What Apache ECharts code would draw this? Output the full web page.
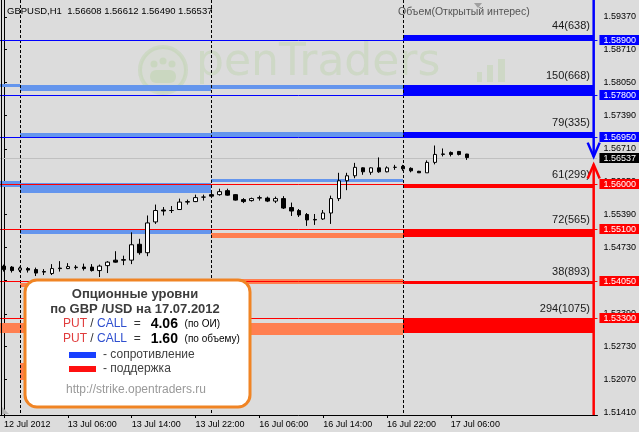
<!DOCTYPE html>
<html>
<head>
<meta charset="utf-8">
<title>GBPUSD H1 — опционные уровни</title>
<script src="https://cdn.jsdelivr.net/npm/echarts@6/dist/echarts.min.js"></script>
<style>
  html, body { margin: 0; padding: 0; background: #dcdcdc; }
  #chart { width: 639px; height: 432px; }
</style>
</head>
<body>
<div id="chart"></div>
<script>
// свечи H1, индекс 0 = 12 Jul 22:00, последний = 17 Jul 08:00
const opens = [
  1.5435, 1.5433, 1.5427, 1.5430, 1.5428, 1.5424, 1.5420, 1.5431, 1.5430, 1.5432,
  1.5433, 1.5433, 1.5426, 1.5436, 1.5447, 1.5448, 1.5447, 1.5479, 1.5462, 1.5524,
  1.5548, 1.5547, 1.5549, 1.5564, 1.5565, 1.5574, 1.5579, 1.5579, 1.5587, 1.5579,
  1.5569, 1.5567, 1.5572, 1.5572, 1.5566, 1.5571, 1.5553, 1.5547, 1.5539, 1.5529,
  1.5530, 1.5542, 1.5571, 1.5607, 1.5617, 1.5633, 1.5624, 1.5633, 1.5625, 1.5634,
  1.5636, 1.5632, 1.5626, 1.5623, 1.5644, 1.5660, 1.5664, 1.5666, 1.56608,
]
const highs = [
  1.5438, 1.5435, 1.5434, 1.5433, 1.5432, 1.5429, 1.5439, 1.5445, 1.5441, 1.5437,
  1.5440, 1.5439, 1.5438, 1.5445, 1.5465, 1.5456, 1.5503, 1.5490, 1.5537, 1.5559,
  1.5554, 1.5556, 1.5571, 1.5569, 1.5579, 1.5579, 1.5584, 1.5591, 1.5591, 1.5580,
  1.5572, 1.5573, 1.5577, 1.5575, 1.5575, 1.5576, 1.5563, 1.5550, 1.5542, 1.5540,
  1.5548, 1.5577, 1.5623, 1.5623, 1.5643, 1.5634, 1.5634, 1.5654, 1.5636, 1.5639,
  1.5639, 1.5634, 1.5627, 1.5648, 1.5678, 1.5672, 1.5666, 1.5667, 1.56612,
]
const lows = [
  1.5424, 1.5422, 1.5423, 1.5422, 1.5415, 1.5417, 1.5417, 1.5424, 1.5429, 1.5428,
  1.5426, 1.5424, 1.5413, 1.5421, 1.5442, 1.5437, 1.5439, 1.5458, 1.5455, 1.5520,
  1.5537, 1.5542, 1.5548, 1.5559, 1.5564, 1.5567, 1.5572, 1.5577, 1.5577, 1.5567,
  1.5562, 1.5565, 1.5567, 1.5564, 1.5562, 1.5550, 1.5536, 1.5534, 1.5516, 1.5518,
  1.5528, 1.5520, 1.5566, 1.5588, 1.5612, 1.5619, 1.5619, 1.5623, 1.5624, 1.5629,
  1.5627, 1.5624, 1.5623, 1.5623, 1.5640, 1.5656, 1.5656, 1.5658, 1.56490,
]
const closes = [
  1.5428, 1.5426, 1.5431, 1.5427, 1.5421, 1.5423, 1.5430, 1.5430, 1.5434, 1.5433,
  1.5430, 1.5426, 1.5435, 1.5443, 1.5443, 1.5447, 1.5478, 1.5462, 1.5522, 1.5547,
  1.5546, 1.5547, 1.5564, 1.5565, 1.5573, 1.5574, 1.5576, 1.5585, 1.5578, 1.5568,
  1.5565, 1.5571, 1.5573, 1.5566, 1.5571, 1.5552, 1.5546, 1.5538, 1.5528, 1.5528,
  1.5542, 1.5571, 1.5607, 1.5617, 1.5634, 1.5625, 1.5633, 1.5625, 1.5633, 1.5634,
  1.5631, 1.5627, 1.5623, 1.5644, 1.5660, 1.5661, 1.5660, 1.5660, 1.56537,
]

// подписи шкалы времени
const timeTickIdx = [0, 8, 16, 24, 32, 40, 48, 56]
const timeTickLabels = [
  '12 Jul 2012', '13 Jul 06:00', '13 Jul 14:00', '13 Jul 22:00',
  '16 Jul 06:00', '16 Jul 14:00', '16 Jul 22:00', '17 Jul 06:00',
]
// разделители дней (00:00)
const daySeparators = [2, 26, 50]
// границы дней для уровней: 12 Jul, 13 Jul, 16 Jul, 17 Jul
const dayBounds = [[-0.5, 2], [2, 26], [26, 50], [50, 73.9]]

// шкала цен
const priceTicks = [
  1.5937, 1.5871, 1.5805, 1.5739, 1.5671, 1.5605, 1.5539,
  1.5473, 1.5407, 1.5339, 1.5273, 1.5207, 1.5141,
]

// опционные уровни на 17.07 (R - сопротивление, S - поддержка)
const levelPrices = [1.5890, 1.5780, 1.5695, 1.5600, 1.5510, 1.5405, 1.5330]
const levelKinds = ['R', 'R', 'R', 'S', 'S', 'S', 'S']
const levelDepth = [0.0011, 0.0019, 0.0010, 0.0008, 0.0017, 0.0006, 0.0030]
const levelVolumes = ['44(638)', '150(668)', '79(335)', '61(299)', '72(565)', '38(893)', '294(1075)']

// уровни прошлых дней: [день, низ, верх, тип]
const pastZones = [
  [0, 1.5795, 1.5802, 'R'],
  [0, 1.5594, 1.5606, 'R'],
  [0, 1.5300, 1.5320, 'S'],
  [1, 1.5787, 1.5800, 'R'],
  [1, 1.5696, 1.5704, 'R'],
  [1, 1.5582, 1.5603, 'R'],
  [1, 1.5499, 1.5509, 'R'],
  [1, 1.5392, 1.5401, 'S'],
  [1, 1.5300, 1.5320, 'S'],
  [1, 1.5205, 1.5240, 'S'],
  [2, 1.5792, 1.5800, 'R'],
  [2, 1.5696, 1.5706, 'R'],
  [2, 1.5605, 1.5610, 'R'],
  [2, 1.5492, 1.5501, 'S'],
  [2, 1.5398, 1.5410, 'S'],
  [2, 1.5297, 1.5321, 'S'],
]

// стрелки настроения: [индекс бара, острие, тип]
const arrows = [
  [73.9, 1.56556, 'R'],
  [73.9, 1.56395, 'S'],
]

const Y_MIN = 1.5135
const Y_MAX = 1.597117
const X_MIN = -0.5
const X_MAX = 74.375

const colors = { R0: '#6495ed', S0: '#ff7f50', R: '#0000ff', S: '#ff0000' }
const font = '"Liberation Sans", Arial, sans-serif'

const last = closes.length - 1
const bidPrice = closes[last]
const header = 'GBPUSD,H1  ' + [opens[last], highs[last], lows[last], closes[last]].map((v) => v.toFixed(5)).join(' ')

const candles = opens.map((o, i) => [i, o, closes[i], lows[i], highs[i]])

const zones = pastZones.map((z) => ({
  x0: dayBounds[z[0]][0], x1: dayBounds[z[0]][1], lo: z[1], hi: z[2], color: colors[z[3] + '0'], text: '',
}))
levelPrices.forEach((p, i) => {
  const r = levelKinds[i] === 'R'
  zones.push({
    x0: dayBounds[3][0], x1: dayBounds[3][1],
    lo: r ? p : p - levelDepth[i], hi: r ? p + levelDepth[i] : p,
    color: colors[levelKinds[i]], text: levelVolumes[i],
  })
})

// горизонтальные линии уровней + линия Bid
const hLines = levelPrices.map((p, i) => ({ price: p, line: colors[levelKinds[i]], box: colors[levelKinds[i]] }))
hLines.push({ price: bidPrice, line: '#c0c0c0', box: '#000' })

const chart = echarts.init(document.getElementById('chart'))

const rich = {
  r: { fill: '#e03c3c', fontSize: 12, fontFamily: font },
  b: { fill: '#2f4fcf', fontSize: 12, fontFamily: font },
  d: { fill: '#333', fontSize: 12, fontFamily: font },
  n: { fill: '#000', fontSize: 14, fontWeight: 'bold', fontFamily: font },
  s: { fill: '#000', fontSize: 10, fontFamily: font },
}

const wm = 'rgba(150,200,110,0.2)'

const option = {
  animation: false,
  backgroundColor: '#dcdcdc',
  grid: { left: -1, right: 40, top: -1, bottom: 17 },
  xAxis: {
    type: 'value',
    min: X_MIN,
    max: X_MAX,
    splitLine: { show: false },
    axisLine: { lineStyle: { color: '#000', width: 1 } },
    axisTick: { customValues: timeTickIdx, length: 3, lineStyle: { color: '#000' } },
    axisLabel: {
      customValues: timeTickIdx,
      formatter: (v) => timeTickLabels[timeTickIdx.indexOf(v)],
      align: 'left',
      margin: 5,
      color: '#000',
      fontSize: 9,
      fontFamily: font,
    },
  },
  yAxis: {
    type: 'value',
    position: 'right',
    min: Y_MIN,
    max: Y_MAX,
    splitLine: { show: false },
    axisLine: { show: true, lineStyle: { color: '#000', width: 1 } },
    axisTick: { show: true, customValues: priceTicks, length: 3, lineStyle: { color: '#000' } },
    axisLabel: {
      customValues: priceTicks,
      formatter: (v) => v.toFixed(5),
      margin: 6,
      color: '#000',
      fontSize: 9,
      fontFamily: font,
    },
  },
  series: [
    {
      // уровни прошлых дней и объёмы текущего дня
      type: 'custom',
      z: 1,
      silent: true,
      data: zones.map((z) => [z.x0, z.x1, z.lo, z.hi]),
      encode: { x: [0, 1], y: [2, 3] },
      renderItem(params, api) {
        const z = zones[params.dataIndex]
        const tl = api.coord([api.value(0), api.value(3)])
        const br = api.coord([api.value(1), api.value(2)])
        const x = Math.round(tl[0])
        const y = Math.round(tl[1])
        const children = [{
          type: 'rect',
          shape: { x, y, width: Math.round(br[0]) - x, height: Math.max(1, Math.round(br[1]) - y) },
          style: { fill: z.color },
        }]
        if (z.text) {
          children.push({
            type: 'text',
            x: Math.round(br[0]) - 4,
            y: y - 9,
            style: { text: z.text, align: 'right', verticalAlign: 'middle', font: '11px ' + font, fill: '#1a1a1a' },
          })
        }
        return { type: 'group', children }
      },
    },
    {
      // разделители дней
      type: 'custom',
      z: 3,
      silent: true,
      data: daySeparators.map((k) => [k, Y_MIN]),
      encode: { x: 0, y: 1 },
      renderItem(params, api) {
        const top = api.coord([api.value(0), Y_MAX])
        const bottom = api.coord([api.value(0), Y_MIN])
        const x = Math.round(top[0]) + 0.5
        return {
          type: 'line',
          shape: { x1: x, y1: top[1], x2: x, y2: bottom[1] },
          style: { stroke: '#000', lineWidth: 1, lineDash: [3, 2] },
        }
      },
    },
    {
      // линии уровней и метки цен на шкале
      type: 'custom',
      z: 3,
      silent: true,
      clip: false,
      data: hLines.map((h) => [X_MIN, h.price]),
      encode: { x: 0, y: 1 },
      renderItem(params, api) {
        const h = hLines[params.dataIndex]
        const a = api.coord([X_MIN, api.value(1)])
        const b = api.coord([X_MAX, api.value(1)])
        const y = Math.round(a[1]) + 0.5
        return {
          type: 'group',
          children: [
            { type: 'line', shape: { x1: a[0], y1: y, x2: b[0], y2: y }, style: { stroke: h.line, lineWidth: 1 } },
            { type: 'rect', shape: { x: b[0] + 2, y: y - 5.5, width: 40, height: 10 }, style: { fill: h.box } },
            {
              type: 'text', x: b[0] + 6, y: y,
              style: { text: h.price.toFixed(5), verticalAlign: 'middle', font: '9px ' + font, fill: '#fff' },
            },
          ],
        }
      },
    },
    {
      // стрелки справа
      type: 'custom',
      z: 4,
      silent: true,
      clip: false,
      data: arrows.map((a) => [a[0], a[1]]),
      encode: { x: 0, y: 1 },
      renderItem(params, api) {
        const a = arrows[params.dataIndex]
        const up = a[2] === 'S'
        const tip = api.coord([api.value(0), api.value(1)])
        const end = api.coord([api.value(0), up ? Y_MIN : Y_MAX])
        const c = colors[a[2]]
        const d = up ? 14 : -14
        return {
          type: 'group',
          children: [
            { type: 'line', shape: { x1: tip[0], y1: tip[1], x2: end[0], y2: end[1] }, style: { stroke: c, lineWidth: 2.5 } },
            {
              type: 'polyline',
              shape: { points: [[tip[0] - 6, tip[1] + d], [tip[0], tip[1]], [tip[0] + 6, tip[1] + d]] },
              style: { stroke: c, lineWidth: 2.5, fill: null },
            },
          ],
        }
      },
    },
    {
      type: 'candlestick',
      z: 10,
      barWidth: 4,
      encode: { x: 0, y: [1, 2, 3, 4] },
      data: candles,
      itemStyle: {
        color: '#ffffff',
        color0: '#000000',
        borderColor: '#000000',
        borderColor0: '#000000',
        borderColorDoji: '#000000',
        borderWidth: 1,
      },
    },
  ],
  graphic: [
    // водяной знак openTraders
    { type: 'circle', z: 0, silent: true, shape: { cx: 163, cy: 70, r: 23 }, style: { fill: 'rgba(150,200,110,0.06)', stroke: wm, lineWidth: 4 } },
    { type: 'circle', z: 0, silent: true, shape: { cx: 154, cy: 64, r: 3.5 }, style: { fill: wm } },
    { type: 'circle', z: 0, silent: true, shape: { cx: 163, cy: 61, r: 3.5 }, style: { fill: wm } },
    { type: 'circle', z: 0, silent: true, shape: { cx: 172, cy: 64, r: 3.5 }, style: { fill: wm } },
    { type: 'rect', z: 0, silent: true, shape: { x: 150, y: 70, width: 26, height: 13, r: 6 }, style: { fill: wm } },
    { type: 'text', z: 0, silent: true, x: 196, y: 64, style: { text: 'penTraders', font: '44px "DejaVu Sans", sans-serif', fill: wm, verticalAlign: 'middle' } },
    { type: 'rect', z: 0, silent: true, shape: { x: 477, y: 72, width: 5, height: 10 }, style: { fill: wm } },
    { type: 'rect', z: 0, silent: true, shape: { x: 487, y: 65, width: 6, height: 17 }, style: { fill: wm } },
    { type: 'rect', z: 0, silent: true, shape: { x: 498, y: 59, width: 7, height: 23 }, style: { fill: wm } },
    // рамка и служебные метки
    { type: 'line', z: 20, silent: true, shape: { x1: 1.5, y1: 0, x2: 1.5, y2: 415 }, style: { stroke: '#000', lineWidth: 1 } },
    { type: 'polygon', z: 20, silent: true, shape: { points: [[474, 3], [482, 3], [478, 8]] }, style: { fill: '#a0a0a0' } },
    { type: 'polygon', z: 20, silent: true, shape: { points: [[2, 407], [2, 414], [9, 414]] }, style: { fill: '#b4b4b4' } },
    { type: 'text', z: 20, x: 7, y: 6, style: { text: header, font: '9.5px ' + font, fill: '#000' } },
    { type: 'text', z: 20, x: 398, y: 7, style: { text: 'Объем(Открытый интерес)', font: '10.5px ' + font, fill: '#555' } },
    // информационная плашка
    {
      type: 'group',
      x: 25,
      y: 280,
      silent: true,
      children: [
        { type: 'rect', z: 100, shape: { x: 0, y: 0, width: 225, height: 127, r: 12 }, style: { fill: '#fff', stroke: '#f08424', lineWidth: 3 } },
        { type: 'text', z: 101, x: 110, y: 14, style: { text: 'Опционные уровни', align: 'center', verticalAlign: 'middle', font: 'bold 13px ' + font, fill: '#3c3c3c' } },
        { type: 'text', z: 101, x: 110, y: 29, style: { text: 'по GBP /USD на 17.07.2012', align: 'center', verticalAlign: 'middle', font: 'bold 13px ' + font, fill: '#3c3c3c' } },
        {
          type: 'text', z: 101, x: 38, y: 44,
          style: { text: '{r|PUT} {d|/} {b|CALL}  {d|=}   {n|4.06}  {s|(по ОИ)}', verticalAlign: 'middle', font: '12px ' + font, rich },
        },
        {
          type: 'text', z: 101, x: 38, y: 59,
          style: { text: '{r|PUT} {d|/} {b|CALL}  {d|=}   {n|1.60}  {s|(по объему)}', verticalAlign: 'middle', font: '12px ' + font, rich },
        },
        { type: 'rect', z: 101, shape: { x: 44, y: 72, width: 27, height: 6 }, style: { fill: '#1840ff' } },
        { type: 'text', z: 101, x: 78, y: 75, style: { text: '- сопротивление', verticalAlign: 'middle', font: '12px ' + font, fill: '#404040' } },
        { type: 'rect', z: 101, shape: { x: 44, y: 86, width: 27, height: 6 }, style: { fill: '#ff1010' } },
        { type: 'text', z: 101, x: 78, y: 89, style: { text: '- поддержка', verticalAlign: 'middle', font: '12px ' + font, fill: '#404040' } },
        { type: 'text', z: 101, x: 111, y: 110, style: { text: 'http://strike.opentraders.ru', align: 'center', verticalAlign: 'middle', font: '12px ' + font, fill: '#999' } },
      ],
    },
  ],
}

chart.setOption(option)
</script>
</body>
</html>
